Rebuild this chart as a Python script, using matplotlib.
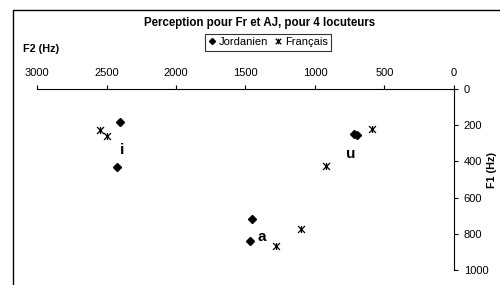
import matplotlib
matplotlib.use("Agg")
import matplotlib.pyplot as plt
from matplotlib.path import Path
from matplotlib.lines import Line2D

plt.rcParams['font.family'] = ['Liberation Sans', 'DejaVu Sans']

# Données (F2, F1 en Hz)
jord_f2 = [2400, 2421, 716, 700, 1454, 1468]
jord_f1 = [182, 431, 249, 252, 718, 840]
fr_f2 = [2550, 2500, 587, 924, 1103, 1282]
fr_f1 = [226, 260, 221, 425, 773, 867]

vowels = ['i', 'u', 'a']
vowel_f2 = [2385, 745, 1385]
vowel_f1 = [335, 360, 820]

x_ticks = [3000, 2500, 2000, 1500, 1000, 500, 0]
y_ticks = [0, 200, 400, 600, 800, 1000]

# marqueur "étoile" façon Excel : x + barre verticale
star = Path([(-1, -1), (1, 1), (-1, 1), (1, -1), (0, -1), (0, 1)],
            [Path.MOVETO, Path.LINETO, Path.MOVETO, Path.LINETO,
             Path.MOVETO, Path.LINETO])

fig = plt.figure(figsize=(5, 2.85), dpi=100)
ax = fig.add_axes([0.074, 0.0526, 0.834, 0.635])

ax.plot(jord_f2, jord_f1, linestyle='none', marker='D', markersize=3.8,
        color='black', label='Jordanien')
ax.plot(fr_f2, fr_f1, linestyle='none', marker=star, markersize=5,
        markeredgewidth=0.9, color='black', label='Français')

for v, f2, f1 in zip(vowels, vowel_f2, vowel_f1):
    ax.text(f2, f1, v, fontsize=11, fontweight='bold', ha='center', va='center')

ax.set_xlim(3000, 0)
ax.set_ylim(1000, 0)
ax.set_xticks(x_ticks)
ax.set_yticks(y_ticks)
ax.xaxis.tick_top()
ax.yaxis.tick_right()
ax.tick_params(axis='both', labelsize=8, length=3, width=0.8, direction='out')
ax.tick_params(axis='x', pad=5)
ax.tick_params(axis='y', pad=4)
for s in ['left', 'bottom']:
    ax.spines[s].set_visible(False)
for s in ['top', 'right']:
    ax.spines[s].set_linewidth(0.8)

fig.text(0.519, 0.92, 'Perception pour Fr et AJ, pour 4 locuteurs', fontsize=8.3,
         fontweight='bold', ha='center', va='center')
fig.text(0.046, 0.828, 'F2 (Hz)', fontsize=7.8, fontweight='bold', ha='left', va='center')
fig.text(0.984, 0.405, 'F1 (Hz)', fontsize=7.8, fontweight='bold', rotation=90,
         ha='center', va='center')

leg = fig.legend(loc='center', bbox_to_anchor=(0.536, 0.852), ncol=2, fontsize=8,
                 frameon=True, fancybox=False, edgecolor='black', handlelength=0.7,
                 handletextpad=0.3, columnspacing=0.5, borderpad=0.3, markerscale=0.8)
leg.get_frame().set_linewidth(0.8)

# cadre de la zone de graphique
fig.add_artist(Line2D([13 / 500, 13 / 500, 1], [0, 1 - 10 / 285, 1 - 10 / 285],
                      color='black', linewidth=1))

fig.savefig('out.png', dpi=100)
